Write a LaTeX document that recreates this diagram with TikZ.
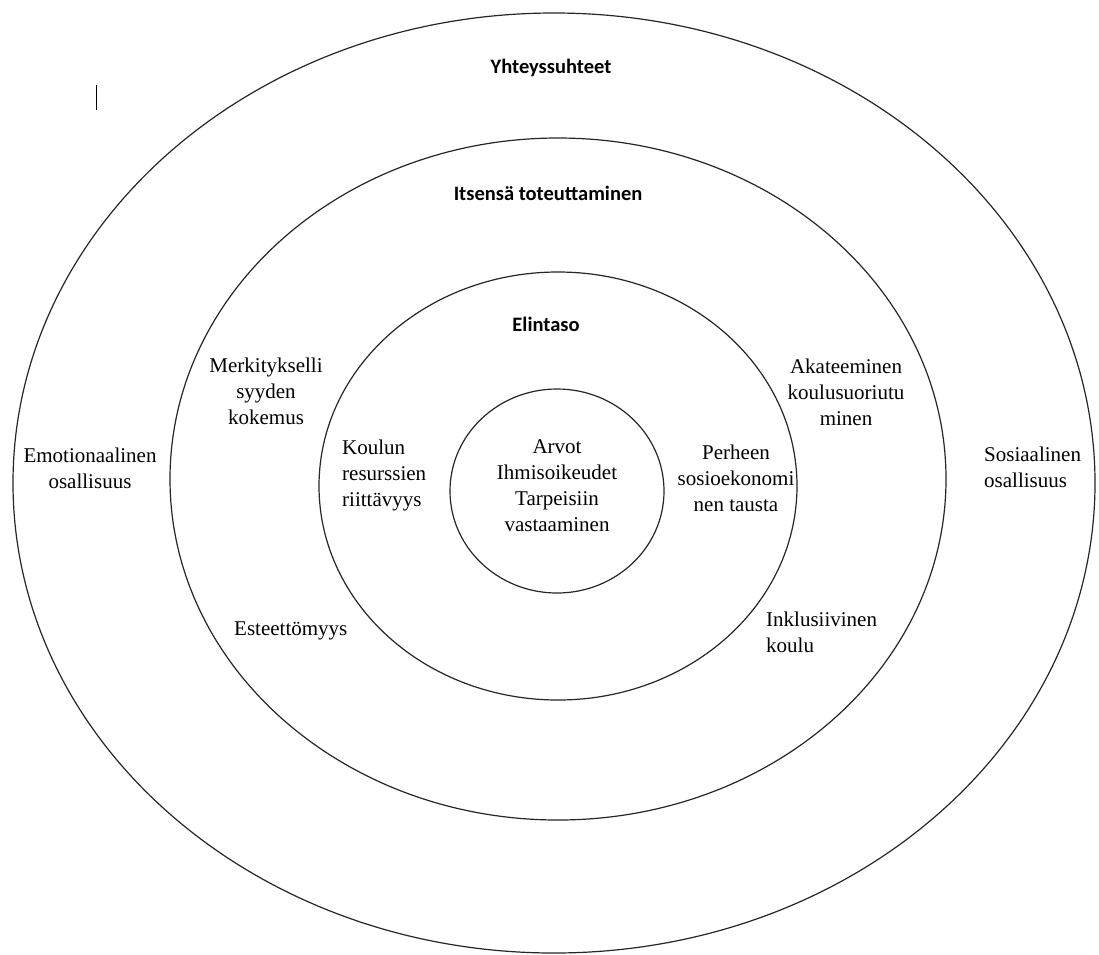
\documentclass[tikz,border=0pt]{standalone}
\usepackage{fontspec}
\setmainfont{Liberation Serif}
\newfontfamily\calib{Carlito}
\begin{document}
\begin{tikzpicture}[x=1pt,y=-1pt,
  ring/.style={draw=black!85, line width=1.2pt},
  lab/.style={inner sep=0pt, anchor=base, align=center, font=\fontsize{21}{26}\selectfont},
  labl/.style={inner sep=0pt, anchor=base west, align=left, font=\fontsize{21}{26}\selectfont},
  head/.style={inner sep=0pt, anchor=base, font=\calib\bfseries\fontsize{20.5}{24}\selectfont}]
\useasboundingbox (0,0) rectangle (1099,954);
\fill[white] (0,0) rectangle (1099,954);
% rings
\draw[ring] (554,483) ellipse [x radius=541, y radius=470];
\draw[ring] (558,479) ellipse [x radius=388, y radius=341];
\draw[ring] (558,486) ellipse [x radius=239, y radius=214];
\draw[ring] (557,491) ellipse [x radius=107, y radius=102];
% cursor mark
\coordinate (c1) at (96,85);
\coordinate (c2) at (96,110);
\draw[line width=0.8pt] (c1) -- (c2);
% headings
\node[head] (h1) at (551,73) {Yhteyssuhteet};
\node[head] (h2) at (548,200) {Itsensä toteuttaminen};
\node[head] (h3) at (546,331) {Elintaso};
% outer ring labels (anchored at the last line's baseline)
\node[lab] (emo) at (90,488) {Emotionaalinen\\osallisuus};
\node[labl] (sos) at (984,487) {Sosiaalinen\\osallisuus};
% second ring labels
\node[lab] (mer) at (266,424) {Merkitykselli\\syyden\\kokemus};
\node[lab] (aka) at (846,425) {Akateeminen\\koulusuoriutu\\minen};
\node[labl] (est) at (234,635) {Esteettömyys};
\node[labl] (ink) at (766,652) {Inklusiivinen\\koulu};
% third ring labels
\node[labl] (kou) at (342,506) {Koulun\\resurssien\\riittävyys};
\node[lab] (per) at (736,511) {Perheen\\sosioekonomi\\nen tausta};
% centre
\node[lab] (arv) at (557,531) {Arvot\\Ihmisoikeudet\\Tarpeisiin\\vastaaminen};
\end{tikzpicture}
\end{document}
